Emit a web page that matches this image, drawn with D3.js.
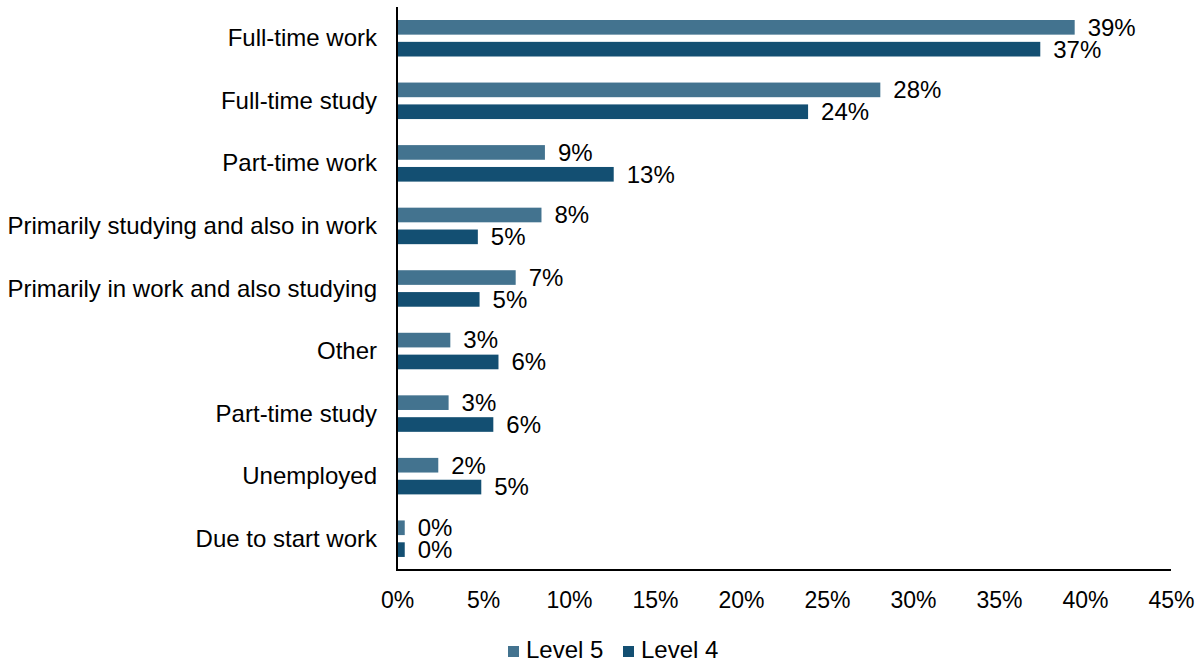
<!DOCTYPE html>
<html>
<head>
<meta charset="utf-8">
<script src="https://cdn.jsdelivr.net/npm/d3@7"></script>
<style>
  html, body { margin: 0; padding: 0; background: #fff; }
  svg { display: block; }
  text { font-family: "Liberation Sans", Arial, sans-serif; fill: #000; }
</style>
</head>
<body>
<svg id="chart" width="1204" height="664"></svg>
<script>
const categories = [
  "Full-time work",
  "Full-time study",
  "Part-time work",
  "Primarily studying and also in work",
  "Primarily in work and also studying",
  "Other",
  "Part-time study",
  "Unemployed",
  "Due to start work"
];
const seriesNames = ["Level 5", "Level 4"];
const level5 = [39.4, 28.1, 8.6, 8.4, 6.9, 3.1, 3.0, 2.4, 0.45];
const level4 = [37.4, 23.9, 12.6, 4.7, 4.8, 5.9, 5.6, 4.9, 0.45];
const xTicks = [0, 5, 10, 15, 20, 25, 30, 35, 40, 45];
const colors = ["#43738f", "#134f72"];

const FS = 24;
const svg = d3.select("#chart");
const margin = { left: 397, right: 33, top: 7, bottom: 94 };
const W = 1204, H = 664;

const x = d3.scaleLinear().domain([0, 45]).range([margin.left, W - margin.right]);
const y = d3.scaleBand().domain(categories).range([margin.top, H - margin.bottom]).paddingInner(0).paddingOuter(0);
const sub = d3.scaleBand().domain(seriesNames).range([13, 49.5]).paddingInner(0.33);

const data = [level5, level4];

seriesNames.forEach((s, si) => {
  const g = svg.append("g");
  g.selectAll("rect").data(categories).enter().append("rect")
    .attr("x", x(0))
    .attr("y", c => y(c) + sub(s))
    .attr("width", (c, i) => x(data[si][i]) - x(0))
    .attr("height", sub.bandwidth())
    .attr("fill", colors[si]);
  g.selectAll("text").data(categories).enter().append("text")
    .attr("x", (c, i) => x(data[si][i]) + 13)
    .attr("y", c => y(c) + sub(s) + sub.bandwidth() / 2 + 2)
    .attr("dominant-baseline", "middle")
    .attr("font-size", FS)
    .text((c, i) => Math.round(data[si][i]) + "%");
});

// category labels
svg.append("g").selectAll("text").data(categories).enter().append("text")
  .attr("x", margin.left - 20)
  .attr("y", c => y(c) + 33)
  .attr("text-anchor", "end")
  .attr("dominant-baseline", "middle")
  .attr("font-size", FS)
  .text(c => c);

// axes lines
svg.append("line")
  .attr("x1", x(0)).attr("x2", x(0))
  .attr("y1", margin.top).attr("y2", H - margin.bottom + 1)
  .attr("stroke", "#000").attr("stroke-width", 2);
svg.append("line")
  .attr("x1", x(0) - 1).attr("x2", x(45))
  .attr("y1", H - margin.bottom).attr("y2", H - margin.bottom)
  .attr("stroke", "#000").attr("stroke-width", 2);

// x tick labels
const xAxis = d3.axisBottom(x).tickValues(xTicks).tickSize(0).tickPadding(0).tickFormat(d => d + "%");
const ax = svg.append("g").attr("transform", `translate(0,${H - margin.bottom})`).call(xAxis);
ax.select(".domain").remove();
ax.selectAll("text")
  .attr("font-size", 23)
  .attr("font-family", "Liberation Sans, Arial, sans-serif")
  .attr("fill", "#000")
  .attr("y", 30)
  .attr("dy", "0.35em");

// legend
const legend = svg.append("g");
const legendX = [508, 623];
seriesNames.forEach((s, i) => {
  legend.append("rect").attr("x", legendX[i]).attr("y", 646).attr("width", 11).attr("height", 11).attr("fill", colors[i]);
  legend.append("text").attr("x", legendX[i] + 18).attr("y", 652)
    .attr("dominant-baseline", "middle").attr("font-size", FS).text(s);
});
</script>
</body>
</html>
